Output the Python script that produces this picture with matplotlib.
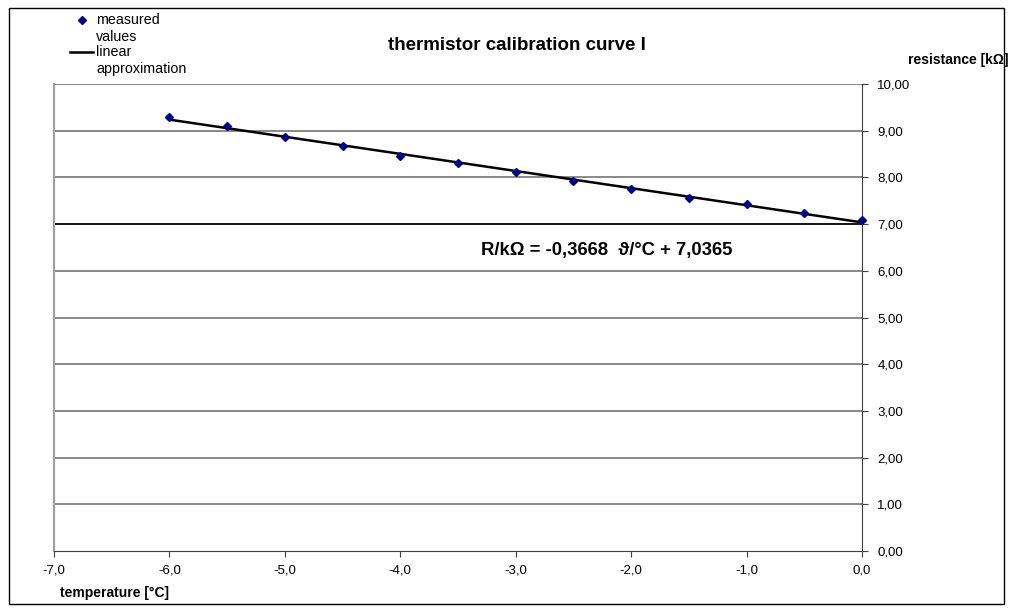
import matplotlib
matplotlib.use("Agg")
import matplotlib.pyplot as plt
from matplotlib.lines import Line2D
from matplotlib.patches import Rectangle

plt.rcParams['font.family'] = ['Liberation Sans', 'DejaVu Sans']

temperature = [-6.0, -5.5, -5.0, -4.5, -4.0, -3.5, -3.0, -2.5, -2.0, -1.5, -1.0, -0.5, 0.0]
resistance = [9.30, 9.10, 8.86, 8.67, 8.46, 8.31, 8.12, 7.92, 7.75, 7.56, 7.42, 7.23, 7.09]
fit_slope = -0.3668
fit_intercept = 7.0365
fit_range = [-6.0, 0.0]
x_ticks = [-7, -6, -5, -4, -3, -2, -1, 0]
y_ticks = [0, 1, 2, 3, 4, 5, 6, 7, 8, 9, 10]
legend_labels = ["measured\nvalues", "linear\napproximation"]

def fmt(v, d):
    return f"{v:.{d}f}".replace('.', ',')

W, H = 1012, 612
fig = plt.figure(figsize=(W / 100, H / 100), dpi=100)
fig.patches.append(Rectangle((9/W, 8/H), 995/W, 596/H, transform=fig.transFigure,
                             fill=False, edgecolor='black', linewidth=1.0))

ax = fig.add_axes([54/W, 61/H, 808/W, 467/H])
ax.set_xlim(-7, 0)
ax.set_ylim(0, 10)

for y in y_ticks[1:]:
    ax.axhline(y, color='black' if y == 7 else '#808080', linewidth=1.3, zorder=1)

fit_y = [fit_slope * x + fit_intercept for x in fit_range]
ax.plot(fit_range, fit_y, color='black', linewidth=1.8, zorder=3, clip_on=False)
ax.plot(temperature, resistance, linestyle='none', marker='D', markersize=4.5,
        color='#000080', zorder=4, clip_on=False)

ax.spines['top'].set_visible(False)
ax.spines['left'].set_color('#a0a0a0')
ax.spines['left'].set_linewidth(1.6)
ax.spines['right'].set_color('#404040')
ax.spines['bottom'].set_color('#404040')
ax.yaxis.tick_right()
ax.set_xticks(x_ticks)
ax.set_xticklabels([fmt(v, 1) for v in x_ticks])
ax.set_yticks(y_ticks)
ax.set_yticklabels([fmt(v, 2) for v in y_ticks])
ax.tick_params(axis='both', direction='out', length=4, labelsize=9.5, color='#404040')
ax.tick_params(axis='x', pad=6)
ax.tick_params(axis='y', pad=7)

fig.text(517/W, 1 - 45/H, "thermistor calibration curve I", ha='center', va='center',
         fontsize=13.5, fontweight='bold')
fig.text(958/W, 1 - 60/H, "resistance [kΩ]", ha='center', va='center', fontsize=10, fontweight='bold')
fig.text(60/W, 1 - 593/H, "temperature [°C]", ha='left', va='center', fontsize=10, fontweight='bold')
fig.text(481/W, 1 - 250/H, "R/kΩ = -0,3668  ϑ/°C + 7,0365", ha='left', va='center',
         fontsize=13.3, fontweight='bold')

# legend (drawn manually to match the spacing of the original)
fig.add_artist(Line2D([82/W], [1 - 20/H], transform=fig.transFigure, linestyle='none',
                      marker='D', markersize=4, color='#000080'))
fig.add_artist(Line2D([70/W, 93/W], [1 - 52/H, 1 - 52/H], transform=fig.transFigure,
                      color='black', linewidth=1.8))
fig.text(96/W, 1 - 28.5/H, legend_labels[0], ha='left', va='center', fontsize=10.3, linespacing=1.2)
fig.text(96/W, 1 - 60.5/H, legend_labels[1], ha='left', va='center', fontsize=10.3, linespacing=1.2)

fig.savefig("out.png", dpi=100)
